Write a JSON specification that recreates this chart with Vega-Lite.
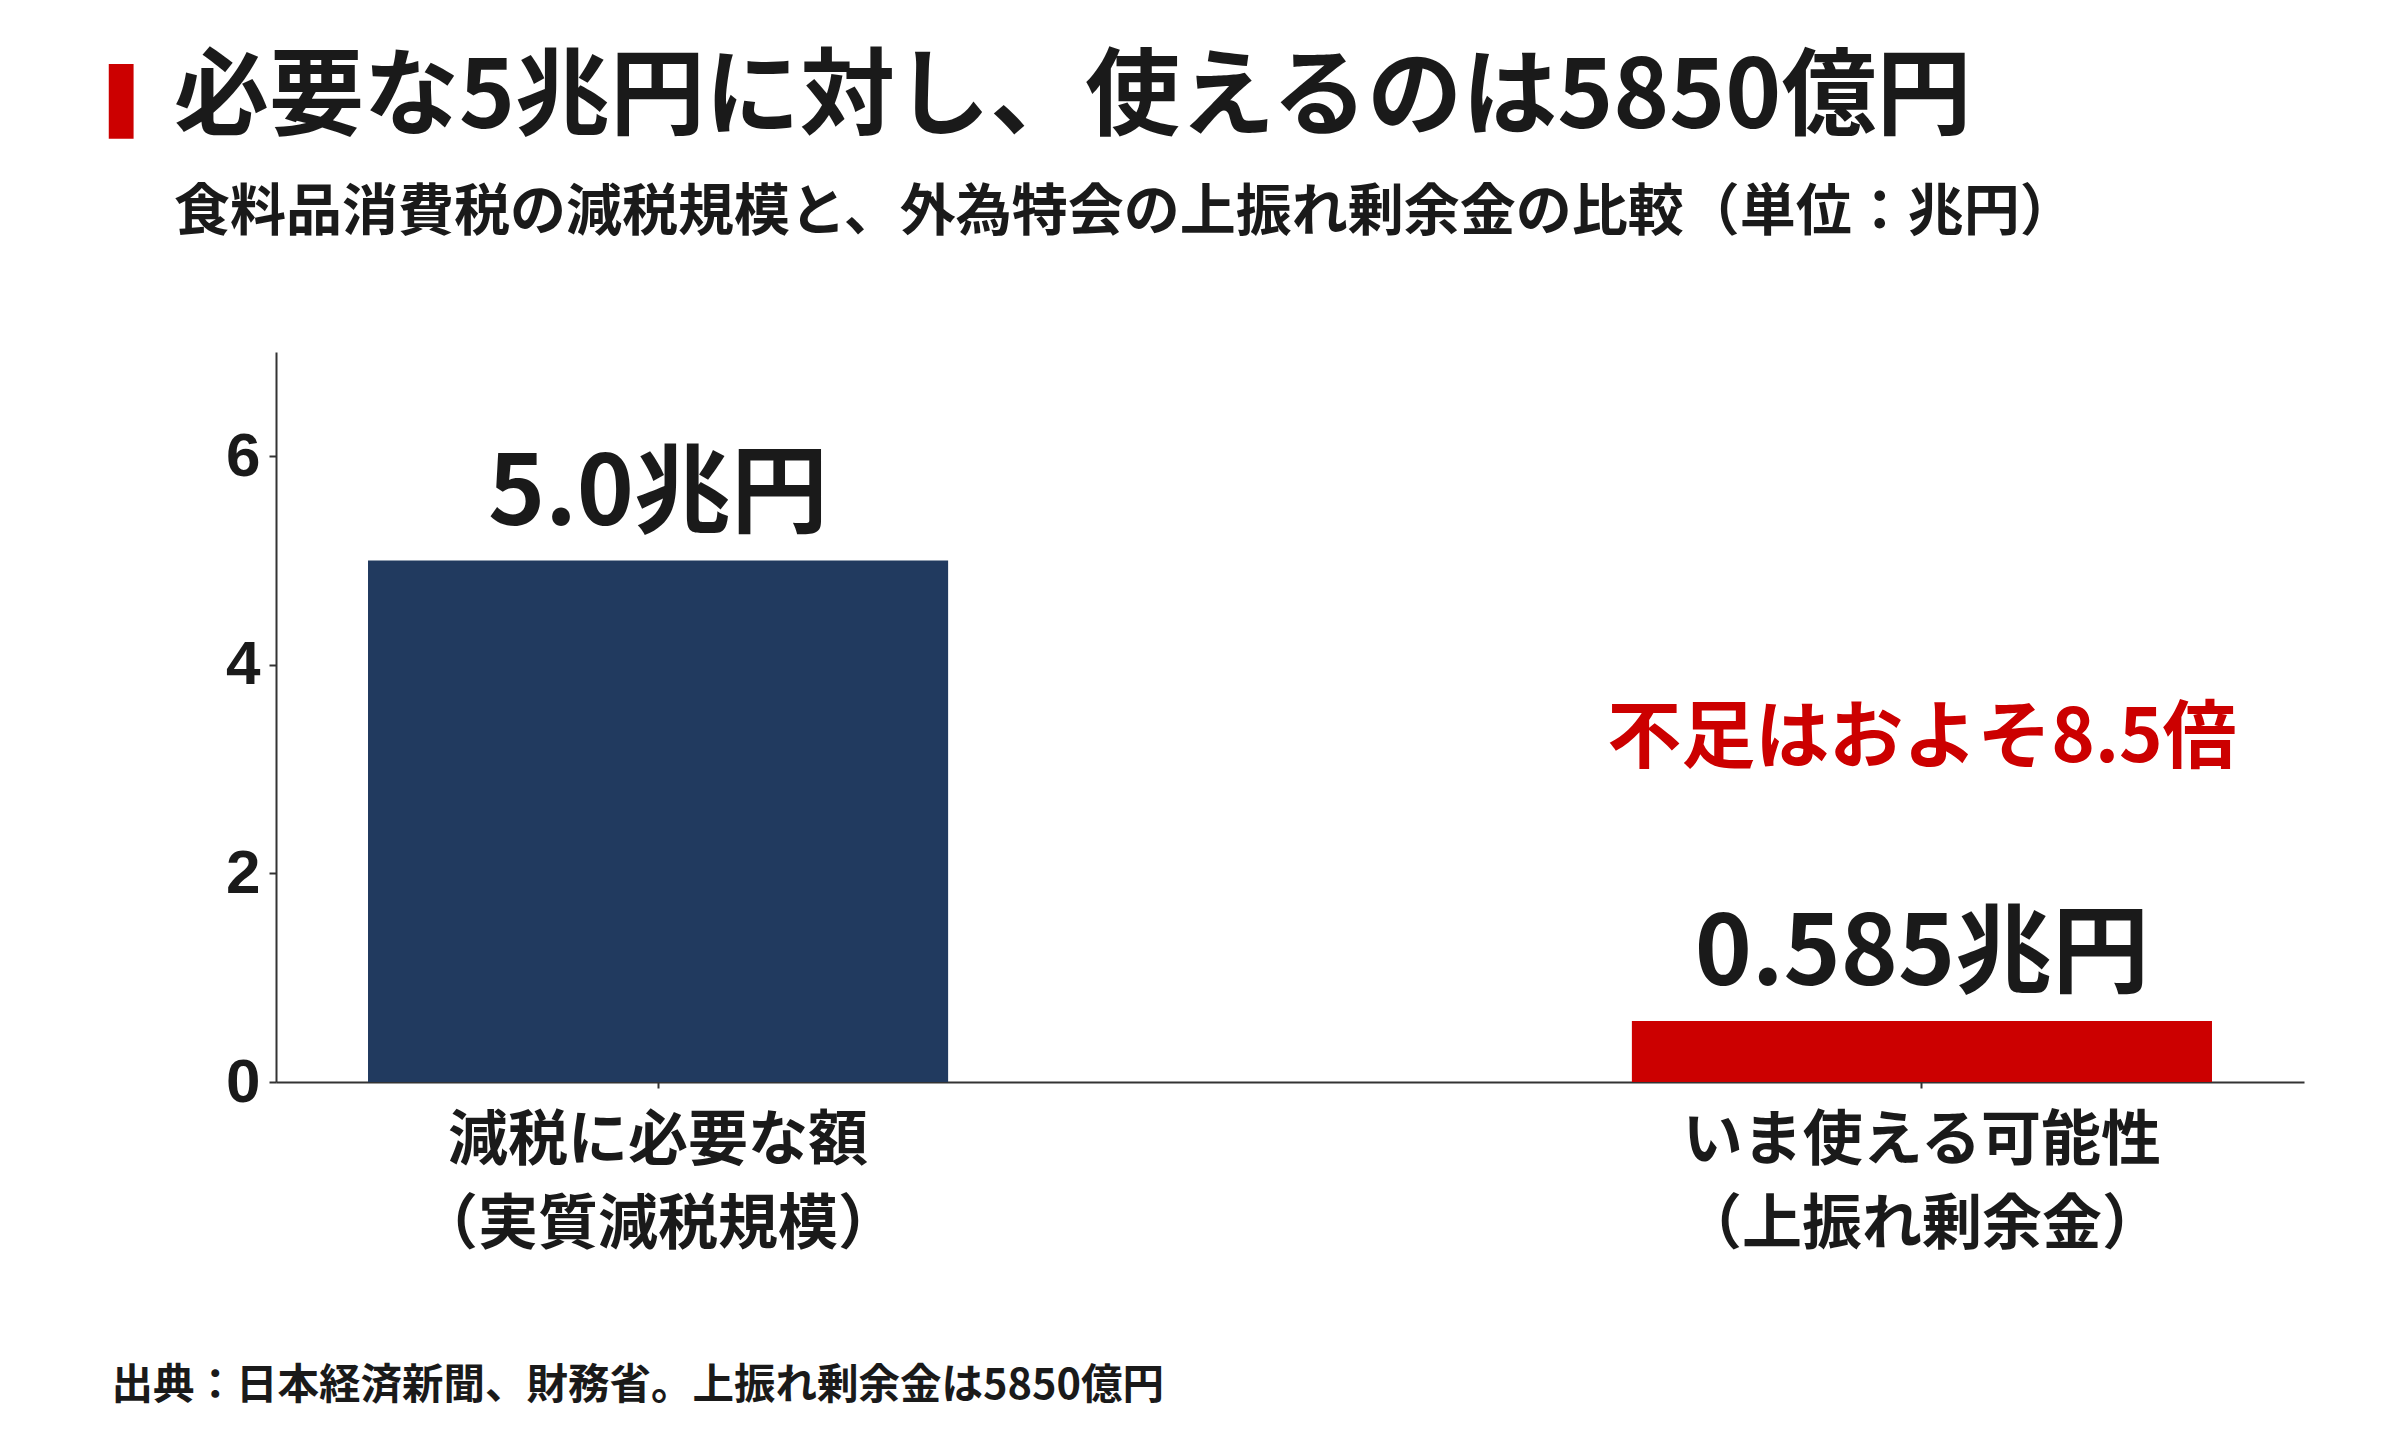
{
  "$schema": "https://vega.github.io/schema/vega-lite/v6.json",
  "width": 2028,
  "height": 730,
  "autosize": {"type": "none"},
  "padding": {"left": 276, "top": 352, "right": 96, "bottom": 358},
  "background": "white",
  "title": {
    "text": "必要な5兆円に対し、使えるのは5850億円",
    "subtitle": "食料品消費税の減税規模と、外為特会の上振れ剰余金の比較（単位：兆円）",
    "anchor": "start",
    "frame": "group",
    "dx": -102,
    "offset": -170,
    "font": "Noto Sans CJK JP",
    "fontSize": 95,
    "fontWeight": "bold",
    "color": "#1a1a1a",
    "subtitleFont": "Noto Sans CJK JP",
    "subtitleFontSize": 56,
    "subtitleFontWeight": "bold",
    "subtitleColor": "#1a1a1a",
    "subtitlePadding": 38
  },
  "data": {
    "values": [
      {"label": "減税に必要な額\n（実質減税規模）", "value": 5.0, "text": "5.0兆円"},
      {"label": "いま使える可能性\n（上振れ剰余金）", "value": 0.585, "text": "0.585兆円", "note": "不足はおよそ8.5倍"}
    ]
  },
  "encoding": {
    "x": {
      "field": "label",
      "type": "nominal",
      "sort": null,
      "scale": {"paddingInner": 0.541, "paddingOuter": 0.0728},
      "axis": {
        "labelExpr": "split(datum.label, '\\n')",
        "labelAngle": 0,
        "labelLimit": 0,
        "labelFont": "Noto Sans CJK JP",
        "labelFontSize": 60,
        "labelFontWeight": "bold",
        "labelColor": "#1a1a1a",
        "labelLineHeight": 84,
        "labelPadding": 24,
        "labelBaseline": "top",
        "tickSize": 6,
        "tickWidth": 2,
        "tickColor": "#333333",
        "domainColor": "#333333",
        "domainWidth": 2,
        "title": "出典：日本経済新聞、財務省。上振れ剰余金は5850億円",
        "titleFont": "Noto Sans CJK JP",
        "titleFontSize": 41.5,
        "titleFontWeight": "bold",
        "titleColor": "#1a1a1a",
        "titleAlign": "left",
        "titleAnchor": "start",
        "titleBaseline": "alphabetic",
        "titleX": -165,
        "titleY": 316
      }
    },
    "y": {
      "field": "value",
      "type": "quantitative",
      "scale": {"domain": [0, 7], "nice": false},
      "axis": {
        "values": [0, 2, 4, 6],
        "grid": false,
        "labelFont": "Liberation Sans",
        "labelFontSize": 62,
        "labelFontWeight": "bold",
        "labelColor": "#1a1a1a",
        "labelPadding": 9,
        "tickSize": 7,
        "tickWidth": 2,
        "tickColor": "#333333",
        "domainColor": "#333333",
        "domainWidth": 2,
        "title": "▌",
        "titleFont": "DejaVu Sans",
        "titleFontSize": 63,
        "titleColor": "#cc0000",
        "titleAngle": 0,
        "titleAlign": "left",
        "titleBaseline": "alphabetic",
        "titleX": -167,
        "titleY": -230
      }
    }
  },
  "layer": [
    {
      "mark": {"type": "bar"},
      "encoding": {
        "color": {
          "field": "label",
          "type": "nominal",
          "sort": null,
          "scale": {"range": ["#213a5f", "#cc0000"]},
          "legend": null
        }
      }
    },
    {
      "mark": {"type": "text", "font": "Noto Sans CJK JP", "fontSize": 97, "fontWeight": "bold", "color": "#1a1a1a", "baseline": "alphabetic", "dy": -36},
      "encoding": {"text": {"field": "text"}}
    },
    {
      "transform": [{"filter": "datum.note"}],
      "mark": {"type": "text", "font": "Noto Sans CJK JP", "fontSize": 74, "fontWeight": "bold", "color": "#cc0000", "baseline": "alphabetic", "dy": -259},
      "encoding": {"text": {"field": "note"}}
    }
  ],
  "config": {"view": {"stroke": null}}
}
